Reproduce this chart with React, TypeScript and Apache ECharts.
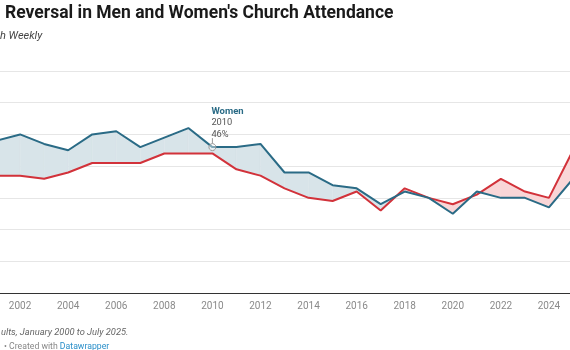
import React, { useEffect, useRef } from 'react';
import * as echarts from 'echarts';

const years = [2000, 2001, 2002, 2003, 2004, 2005, 2006, 2007, 2008, 2009, 2010, 2011, 2012, 2013, 2014, 2015, 2016, 2017, 2018, 2019, 2020, 2021, 2022, 2023, 2024, 2025];
const women = [47, 48, 50, 47, 45, 50, 51, 46, 49, 52, 46, 46, 47, 38, 38, 34, 33, 28, 32, 30, 25, 32, 30, 30, 27, 36];
const men = [37, 37, 37, 36, 38, 41, 41, 41, 44, 44, 44, 39, 37, 33, 30, 29, 32, 26, 33, 30, 28, 31, 36, 32, 30, 45];

const annotationYear = 2010;
const annotationLabel = 'Women';
const annotationValue = '46%';

const titleText = "Reversal in Men and Women's Church Attendance";
const subtitleText = 'h Weekly';
const noteText = 'ults, January 2000 to July 2025.';
const creditText = '• Created with ';
const creditLink = 'Datawrapper';

const BLUE = '#2a6b86';
const RED = '#d2323a';
const BLUE_FILL = '#d8e4e9';
const RED_FILL = '#f9d6d7';
const FONT = 'Roboto, "Noto Sans", sans-serif';

export default function App() {
  const ref = useRef<HTMLDivElement>(null);
  useEffect(() => {
    const chart = echarts.init(ref.current as HTMLDivElement, null, { renderer: 'svg' });
    const womenData = years.map((y, i) => [y, women[i]]);
    const menData = years.map((y, i) => [y, men[i]]);

    const poly = (pts: number[][], fill: string) => ({
      type: 'polygon',
      shape: { points: pts },
      style: { fill, stroke: fill, lineWidth: 0.4 },
    });

    chart.setOption({
      animation: false,
      grid: { left: -28, right: -3, top: 71, bottom: 57, containLabel: false, outerBoundsMode: 'none' },
      xAxis: {
        type: 'value',
        min: 2000,
        max: 2025,
        interval: 2,
        axisLine: { show: true, onZero: false, lineStyle: { color: '#333', width: 1 } },
        axisTick: { show: false },
        splitLine: { show: false },
        axisLabel: {
          color: '#8a8a8a',
          fontSize: 10,
          fontFamily: FONT,
          margin: 7,
          showMinLabel: false,
          showMaxLabel: false,
          formatter: (v: number) => String(v),
        },
      },
      yAxis: {
        type: 'value',
        min: 0,
        max: 70,
        interval: 10,
        axisLine: { show: false },
        axisTick: { show: false },
        axisLabel: { show: false },
        splitLine: { show: true, lineStyle: { color: '#e6e6e6', width: 1 } },
      },
      series: [
        {
          type: 'custom',
          coordinateSystem: 'cartesian2d',
          silent: true,
          z: 1,
          data: years.slice(0, -1).map((y, i) => [y, women[i]]),
          encode: { x: 0, y: 1 },
          renderItem: (params: any, api: any) => {
            const i = params.dataIndex;
            const d0 = women[i] - men[i];
            const d1 = women[i + 1] - men[i + 1];
            const W0 = api.coord([years[i], women[i]]);
            const W1 = api.coord([years[i + 1], women[i + 1]]);
            const M0 = api.coord([years[i], men[i]]);
            const M1 = api.coord([years[i + 1], men[i + 1]]);
            const col = (d: number) => (d >= 0 ? BLUE_FILL : RED_FILL);
            const children: any[] = [];
            if (d0 * d1 >= 0) {
              children.push(poly([W0, W1, M1, M0], col(d0 + d1)));
            } else {
              const t = d0 / (d0 - d1);
              const xi = years[i] + t * (years[i + 1] - years[i]);
              const yi = women[i] + t * (women[i + 1] - women[i]);
              const P = api.coord([xi, yi]);
              children.push(poly([W0, P, M0], col(d0)));
              children.push(poly([P, W1, M1], col(d1)));
            }
            return { type: 'group', children };
          },
        },
        {
          name: 'Men',
          type: 'line',
          data: menData,
          symbol: 'none',
          z: 3,
          lineStyle: { color: RED, width: 2 },
          itemStyle: { color: RED },
        },
        {
          name: 'Women',
          type: 'line',
          data: womenData,
          symbol: 'none',
          z: 4,
          lineStyle: { color: BLUE, width: 2 },
          itemStyle: { color: BLUE },
        },
      ],
    });

    const idx = years.indexOf(annotationYear);
    const p = chart.convertToPixel({ gridIndex: 0 }, [annotationYear, women[idx]]) as number[];
    const px = p[0];
    const py = p[1];

    chart.setOption({
      graphic: {
        elements: [
          {
            type: 'text',
            x: 5,
            y: 12,
            style: { text: titleText, fontSize: 17.5, fontWeight: 'bold', fontFamily: FONT, fill: '#1a1a1a', verticalAlign: 'middle' },
          },
          {
            type: 'text',
            x: 0,
            y: 35,
            style: { text: subtitleText, fontSize: 11, fontStyle: 'italic', fontFamily: FONT, fill: '#444', verticalAlign: 'middle' },
          },
          {
            type: 'text',
            x: 1,
            y: 331,
            style: { text: noteText, fontSize: 9.3, fontStyle: 'italic', fontFamily: FONT, fill: '#666', verticalAlign: 'middle' },
          },
          {
            type: 'text',
            x: 4,
            y: 345.5,
            style: {
              text: '{a|' + creditText + '}{b|' + creditLink + '}',
              verticalAlign: 'middle',
              rich: {
                a: { fontSize: 8.7, fontFamily: FONT, fill: '#888', color: '#888' },
                b: { fontSize: 8.7, fontFamily: FONT, fill: '#2a8fc9', color: '#2a8fc9' },
              },
            },
          },
          {
            type: 'line',
            shape: { x1: px, y1: py - 9, x2: px, y2: py - 3.5 },
            style: { stroke: '#999', lineWidth: 1 },
            z: 10,
          },
          {
            type: 'circle',
            shape: { cx: px, cy: py, r: 3.5 },
            style: { fill: 'rgba(255,255,255,0.4)', stroke: '#999', lineWidth: 1 },
            z: 10,
          },
          {
            type: 'text',
            x: px - 1,
            y: py - 37,
            z: 10,
            style: { text: annotationLabel, fontSize: 9.5, fontWeight: 'bold', fontFamily: FONT, fill: BLUE, verticalAlign: 'middle' },
          },
          {
            type: 'text',
            x: px - 1,
            y: py - 25.5,
            z: 10,
            style: { text: String(annotationYear), fontSize: 9.3, fontFamily: FONT, fill: '#555', verticalAlign: 'middle' },
          },
          {
            type: 'text',
            x: px - 1,
            y: py - 14,
            z: 10,
            style: { text: annotationValue, fontSize: 9.3, fontFamily: FONT, fill: '#555', verticalAlign: 'middle' },
          },
        ],
      },
    });

    return () => chart.dispose();
  }, []);
  return <div ref={ref} style={{ position: 'fixed', left: 0, top: 0, width: 570, height: 350 }} />;
}
